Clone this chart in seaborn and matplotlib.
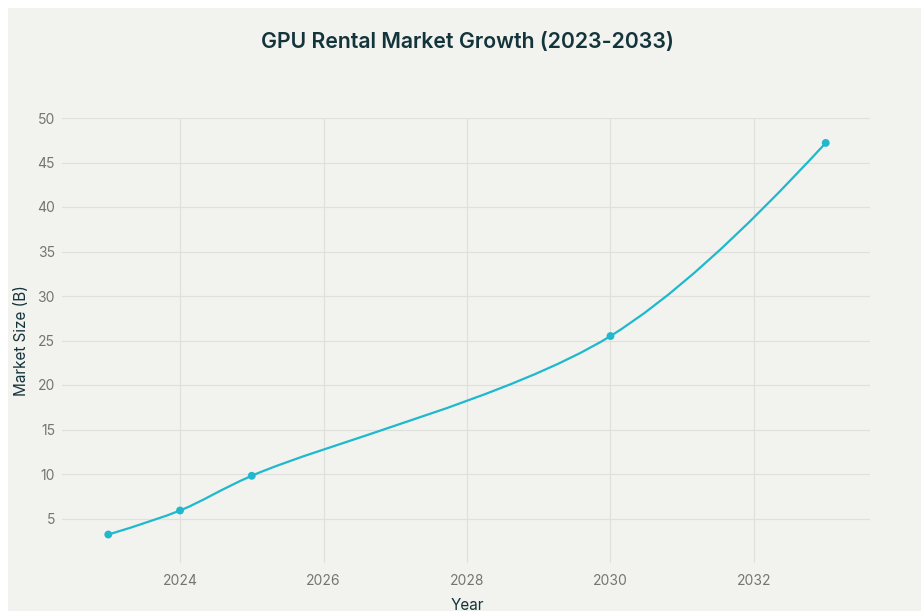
import numpy as np
import matplotlib.pyplot as plt
import seaborn as sns
from matplotlib.path import Path
from matplotlib.patches import PathPatch, Rectangle

years = [2023, 2024, 2025, 2030, 2033]
market_size = [3.2, 5.9, 9.8, 25.5, 47.2]
y_ticks = [5, 10, 15, 20, 25, 30, 35, 40, 45, 50]
x_ticks = [2024, 2026, 2028, 2030, 2032]

BG = "#f2f2ee"
LINE = "#1fb8cd"
DARK = "#13343b"
TICK = "#747474"

sns.set_theme(style="whitegrid")
plt.rcParams["font.family"] = ["Inter", "DejaVu Sans"]


def make_tangent(prev, this, nxt, smooth=1.0):
    # plotly-style catmull-rom control points, in pixel space
    d1 = prev - this
    d2 = nxt - this
    d1a = np.hypot(*d1) ** 0.5
    d2a = np.hypot(*d2) ** 0.5
    num = (d2a * d2a * d1 - d1a * d1a * d2) * smooth
    den1 = 3 * d2a * (d1a + d2a)
    den2 = 3 * d1a * (d1a + d2a)
    return this + num / den1, this - num / den2


def spline_path(ax, xs, ys):
    pts = ax.transData.transform(np.column_stack([xs, ys]))
    tans = [make_tangent(pts[i - 1], pts[i], pts[i + 1]) for i in range(1, len(pts) - 1)]
    verts = [pts[0], tans[0][0], pts[1]]
    codes = [Path.MOVETO, Path.CURVE3, Path.CURVE3]
    for i in range(2, len(pts) - 1):
        verts += [tans[i - 2][1], tans[i - 1][0], pts[i]]
        codes += [Path.CURVE4] * 3
    verts += [tans[-1][1], pts[-1]]
    codes += [Path.CURVE3] * 2
    inv = ax.transData.inverted()
    return Path(inv.transform(np.array(verts)), codes)


fig = plt.figure(figsize=(9.21, 6.13), dpi=100, facecolor="white")
fig.patches.append(Rectangle((8 / 921, 2 / 613), 1, 1 - 10 / 613, transform=fig.transFigure,
                             facecolor=BG, edgecolor="none", zorder=-10))

ax = fig.add_axes([62 / 921, 1 - 563 / 613, (870 - 62) / 921, (563 - 118) / 613])
ax.set_facecolor(BG)
ax.set_xlim(2022.355, 2033.617)
ax.set_ylim(0, 50)
ax.set_xticks(x_ticks)
ax.set_yticks(y_ticks)
ax.grid(True, color="#dfdfdb", linewidth=0.8)
for s in ax.spines.values():
    s.set_visible(False)
ax.tick_params(length=0, labelsize=10, labelcolor=TICK)
ax.tick_params(axis="x", pad=8)
ax.tick_params(axis="y", pad=5)

path = spline_path(ax, years, market_size)
ax.add_patch(PathPatch(path, facecolor="none", edgecolor=LINE, linewidth=1.6, zorder=3))
sns.scatterplot(x=years, y=market_size, ax=ax, color=LINE, s=32, edgecolor="none", zorder=4)

ax.set_xlabel("")
ax.set_ylabel("Market Size (B)", fontsize=11, color=DARK, labelpad=6)
fig.text(467 / 921, 1 - 605 / 613, "Year", ha="center", va="center", fontsize=11, color=DARK)
fig.text(467 / 921, 1 - 42 / 613, "GPU Rental Market Growth (2023-2033)", ha="center", va="center",
         fontsize=15.3, fontweight="semibold", color=DARK)

fig.savefig("out.png", dpi=100, facecolor="white")
